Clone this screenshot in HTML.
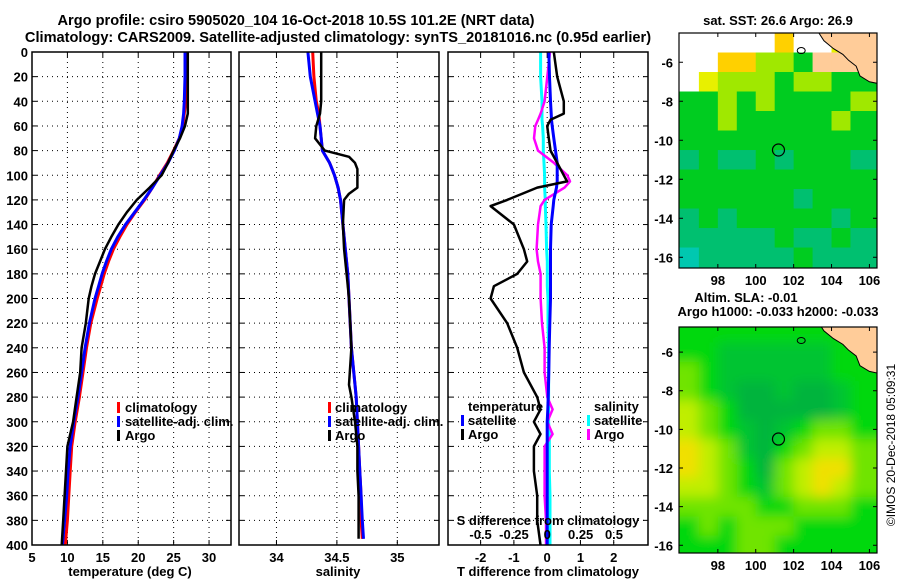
<!DOCTYPE html>
<html><head><meta charset="utf-8"><style>
html,body{margin:0;padding:0;background:#fff;}
svg{display:block;font-family:"Liberation Sans",sans-serif;font-weight:bold;}
</style></head><body>
<svg id="c" width="900" height="580" viewBox="0 0 900 580" xmlns="http://www.w3.org/2000/svg">
<defs><filter id="blur" x="-0.1" y="-0.1" width="1.2" height="1.2"><feGaussianBlur stdDeviation="6"/></filter>
<clipPath id="clipTop"><rect x="679" y="33" width="198" height="235"/></clipPath>
<clipPath id="clipBot"><rect x="679" y="327" width="198" height="226"/></clipPath></defs>
<text x="296" y="25" text-anchor="middle" font-size="14.6">Argo profile: csiro 5905020_104 16-Oct-2018 10.5S 101.2E (NRT data)</text>
<text x="338" y="42" text-anchor="middle" font-size="14.6">Climatology: CARS2009. Satellite-adjusted climatology: synTS_20181016.nc (0.95d earlier)</text>
</svg>
<script>
// ---- profile data ----
const depthTicks=[0,20,40,60,80,100,120,140,160,180,200,220,240,260,280,300,320,340,360,380,400];
const tDepth=[0,20,40,50,60,70,80,90,100,110,120,130,140,150,160,170,180,190,200,220,240,260,280,300,320,340,360,380,400];
const tClim=[26.8,26.8,26.7,26.5,26.3,25.8,25.0,24.1,23.0,22.0,20.9,19.6,18.4,17.4,16.5,15.8,15.2,14.7,14.2,13.3,12.7,12.2,11.7,11.1,10.6,10.4,10.2,10.0,9.7];
const tSat=[26.6,26.6,26.5,26.4,26.2,25.8,25.1,24.2,23.1,22.0,20.8,19.5,18.2,17.1,16.2,15.5,14.9,14.4,13.9,13.1,12.5,12.0,11.5,10.9,10.4,10.1,9.9,9.6,9.3];
const tArgo=[27.0,27.0,27.0,27.0,26.6,25.9,25.0,24.2,23.3,21.6,19.8,18.4,17.2,16.2,15.3,14.6,13.9,13.4,13.0,12.6,12.0,11.8,11.3,10.8,10.0,9.8,9.6,9.4,9.2];
const sDepth=[0,20,40,50,60,70,80,85,90,95,100,110,115,120,140,160,180,200,240,270,280,300,320,340,360,380,395];
const sClim=[34.30,34.31,34.33,34.35,34.36,34.37,34.38,34.41,34.44,34.46,34.48,34.51,34.52,34.53,34.55,34.57,34.59,34.60,34.62,34.65,34.66,34.67,34.68,34.69,34.70,34.70,34.71];
const sSat=[34.26,34.28,34.32,34.34,34.36,34.37,34.38,34.41,34.44,34.46,34.48,34.51,34.52,34.53,34.55,34.57,34.59,34.60,34.62,34.65,34.66,34.67,34.68,34.69,34.70,34.71,34.72];
const sArgo=[34.37,34.37,34.37,34.36,34.33,34.32,34.40,34.60,34.65,34.67,34.67,34.67,34.60,34.56,34.55,34.56,34.58,34.60,34.62,34.60,34.62,34.65,34.67,34.67,34.68,34.68,34.68];
const dDepth=[0,20,40,50,55,60,70,80,90,100,105,110,120,125,140,160,170,180,190,200,220,240,260,280,290,300,310,320,340,360,380,400];
const dTArgo=[0.2,0.3,0.5,0.5,0.1,0.0,0.05,0.1,0.3,0.5,0.6,-0.3,-1.2,-1.7,-1.0,-0.7,-0.6,-0.9,-1.6,-1.7,-1.2,-0.9,-0.7,-0.3,-0.2,-0.4,-0.2,-0.4,-0.4,-0.3,-0.3,-0.2];
const dTSat=[0.05,0.07,0.1,0.12,0.13,0.15,0.2,0.25,0.3,0.3,0.3,0.28,0.2,0.18,0.12,0.1,0.1,0.1,0.1,0.1,0.08,0.06,0.05,0.03,0.02,0.0,0.0,0.0,0.0,0.0,0.0,0.0];
const dSArgo=[0.02,0.0,-0.02,-0.05,-0.07,-0.09,-0.1,-0.07,0.05,0.15,0.17,0.13,-0.02,-0.05,-0.07,-0.08,-0.07,-0.05,-0.05,-0.05,-0.04,-0.02,-0.02,0.0,0.04,0.0,0.04,-0.02,-0.02,-0.02,-0.01,-0.01];
const dSSat=[-0.05,-0.05,-0.04,-0.04,-0.04,-0.035,-0.03,-0.03,-0.025,-0.02,-0.02,-0.02,-0.015,-0.015,-0.01,-0.005,0.0,0.0,0.0,0.005,0.005,0.01,0.01,0.01,0.01,0.01,0.015,0.015,0.015,0.02,0.02,0.02];
const tTicks=[5,10,15,20,25,30];
const sTicks=[34,34.5,35];
const dTTicks=[-2,-1,0,1,2];
const dSTicks=[-0.5,-0.25,0,0.25,0.5];
// ---- map data (1-degree cells, lon 96..106, lat -4.5 southward) ----
const sstGrid=[
"000006005L",
"0066443LLL",
"0544434433",
"3343433334",
"3343333343",
"3333333333",
"2322323332",
"3333333333",
"3333332333",
"2323333323",
"2222232232",
"1222223222"];
const slaGrid=[
"333333333L",
"3322222233",
"4322222233",
"4321121123",
"5431111123",
"5432123443",
"6542134554",
"6543145664",
"5543245654",
"4444334443",
"3434443333",
"3334433333"];
const sstColors={"0":"#ffffff","1":"#00c8b0","2":"#00c070","3":"#00cc20","4":"#a0e800","5":"#e8f000","6":"#ffd000","L":"#ffcc99"};
const slaColors={"1":"#00b43c","2":"#00c432","3":"#00d810","4":"#70e400","5":"#c0ee00","6":"#f0e000","L":"#00d810"};
const latTicks=[-6,-8,-10,-12,-14,-16];
const lonTicks=[98,100,102,104,106];
const argoLon=101.2, argoLat=-10.5;

const svg=document.getElementById('c');
const NS="http://www.w3.org/2000/svg";
function mk(tag,attrs,parent){const e=document.createElementNS(NS,tag);for(const k in attrs)e.setAttribute(k,attrs[k]);(parent||svg).appendChild(e);return e;}
const Y0=52,Y1=545;
const yD=d=>Y0+(d/400)*(Y1-Y0);

function panel(name,x0,x1,vmin,vmax){
  const g=mk('g',{});
  
  
  const sx=v=>x0+(v-vmin)/(vmax-vmin)*(x1-x0);
  depthTicks.forEach(d=>{if(d>0&&d<400){const l=mk('line',{x1:x0,x2:x1,y1:yD(d),y2:yD(d),stroke:'#000','stroke-dasharray':'1,4'},g);}
    mk('line',{x1:x0,x2:x0+5,y1:yD(d),y2:yD(d),stroke:'#000'},g);mk('line',{x1:x1-5,x2:x1,y1:yD(d),y2:yD(d),stroke:'#000'},g);});
  return {g,sx};
}
function vgrid(p,vals,x0,x1){vals.forEach(v=>{const x=p.sx(v);if(x>x0+1&&x<x1-1){const l=mk('line',{x1:x,x2:x,y1:Y0,y2:Y1,stroke:'#000','stroke-dasharray':'1,4'},p.g);}
  mk('line',{x1:x,x2:x,y1:Y1,y2:Y1-5,stroke:'#000'},p.g);mk('line',{x1:x,x2:x,y1:Y0,y2:Y0+5,stroke:'#000'},p.g);});}
function frame(p,x0,x1){const r=mk('rect',{x:x0,y:Y0,width:x1-x0,height:Y1-Y0,fill:'none',stroke:'#000','stroke-width':1.5},p.g);}
function series(p,depths,vals,color,w,name,scale){
  const pts=depths.map((d,i)=>(scale?scale(vals[i]):p.sx(vals[i])).toFixed(1)+','+yD(d).toFixed(1)).join(' ');
  const l=mk('polyline',{points:pts,fill:'none',stroke:color,'stroke-width':w,'stroke-linejoin':'round'},p.g);
  
  
}
function txt(s,x,y,attrs,parent,name){const t=mk('text',Object.assign({x:x,y:y,'font-size':13},attrs||{}),parent);t.textContent=s;return t;}
function legTick(x,y,color,parent){mk('rect',{x:x,y:y-10,width:3,height:11,fill:color},parent);}

// Panel 1 temperature
const p1=panel('temperature-panel',32,231,5,33.1);
vgrid(p1,tTicks,32,231);
series(p1,tDepth,tClim,'#ff0000',3,'climatology-temperature-line');
series(p1,tDepth,tSat,'#0000ff',3,'satellite-temperature-line');
series(p1,tDepth,tArgo,'#000000',2.5,'argo-temperature-line');
frame(p1,32,231);
depthTicks.forEach(d=>txt(String(d),28,yD(d)+5,{'text-anchor':'end'},p1.g,'y-tick-label'));
tTicks.forEach(v=>txt(String(v),p1.sx(v),562,{'text-anchor':'middle'},p1.g,'x-tick-label'));
txt('temperature (deg C)',130,576,{'text-anchor':'middle'},p1.g,'x-axis-title');
legTick(117,412,'#ff0000',p1.g);txt('climatology',125,412,{},p1.g,'legend-entry');
legTick(117,426,'#0000ff',p1.g);txt('satellite-adj. clim.',125,426,{},p1.g,'legend-entry');
legTick(117,440,'#000',p1.g);txt('Argo',125,440,{},p1.g,'legend-entry');

// Panel 2 salinity
const p2=panel('salinity-panel',239,439,33.69,35.345);
vgrid(p2,sTicks,239,439);
series(p2,sDepth,sClim,'#ff0000',3,'climatology-salinity-line');
series(p2,sDepth,sSat,'#0000ff',3,'satellite-salinity-line');
series(p2,sDepth,sArgo,'#000000',2.5,'argo-salinity-line');
frame(p2,239,439);
sTicks.forEach(v=>txt(String(v),p2.sx(v),562,{'text-anchor':'middle'},p2.g,'x-tick-label'));
txt('salinity',338,576,{'text-anchor':'middle'},p2.g,'x-axis-title');
legTick(328,412,'#ff0000',p2.g);txt('climatology',335,412,{},p2.g,'legend-entry');
legTick(328,426,'#0000ff',p2.g);txt('satellite-adj. clim.',335,426,{},p2.g,'legend-entry');
legTick(328,440,'#000',p2.g);txt('Argo',335,440,{},p2.g,'legend-entry');

// Panel 3 differences
const p3=panel('difference-panel',448,648,-2.98,3.03);
vgrid(p3,dTTicks,448,648);
const sxS=v=>547.3+v*133.4;
series(p3,dDepth,dSSat,'#00ffff',3,'satellite-salinity-diff-line',sxS);
series(p3,dDepth,dSArgo,'#ff00ff',2.5,'argo-salinity-diff-line',sxS);
series(p3,dDepth,dTSat,'#0000ff',3,'satellite-temperature-diff-line');
series(p3,dDepth,dTArgo,'#000000',2.5,'argo-temperature-diff-line');
frame(p3,448,648);
dTTicks.forEach(v=>txt(String(v),p3.sx(v),562,{'text-anchor':'middle'},p3.g,'x-tick-label'));
txt('T difference from climatology',548,576,{'text-anchor':'middle'},p3.g,'x-axis-title');
txt('S difference from climatology',548,525,{'text-anchor':'middle'},p3.g,'secondary-x-axis-title');
dSTicks.forEach(v=>txt(String(v),sxS(v),539,{'text-anchor':'middle'},p3.g,'secondary-x-tick-label'));
txt('temperature',468,411,{},p3.g,'legend-header');
legTick(461,425,'#0000ff',p3.g);txt('satellite',468,425,{},p3.g,'legend-entry');
legTick(461,439,'#000',p3.g);txt('Argo',468,439,{},p3.g,'legend-entry');
txt('salinity',594,411,{},p3.g,'legend-header');
legTick(587,425,'#00ffff',p3.g);txt('satellite',594,425,{},p3.g,'legend-entry');
legTick(587,439,'#ff00ff',p3.g);txt('Argo',594,439,{},p3.g,'legend-entry');

// Maps
function map(name,grid,colors,top,bottom,latTop,latBot,blur,clip){
  const g=mk('g',{});
  
  
  const X0=679,X1=877,lonL=95.95,lonR=106.4;
  const sx=lo=>X0+(lo-lonL)/(lonR-lonL)*(X1-X0);
  const sy=la=>top+(latTop-la)/(latTop-latBot)*(bottom-top);
  const cg=mk('g',{'clip-path':'url(#'+clip+')'},g);
  const cells=mk('g',blur?{filter:'url(#blur)'}:{},cg);
  const ext=blur?1.5:0.5;
  grid.forEach((row,r)=>{for(let c=0;c<row.length;c++){
    const x=sx(96+c-(c===0?ext:0)), x2=sx(97+c+(c===9?ext:0));
    const y=sy(-4.5-r+(r===0?ext:0)), y2=sy(-5.5-r-(r===11?ext:0));
    const cell=mk('rect',{x:x,y:y,width:x2-x+0.5,height:y2-y+0.5,fill:colors[row[c]]},cells);
    
    
  }});
  const coast=[[103.2,-4.3],[103.6,-4.9],[104.1,-5.3],[104.6,-5.6],[104.9,-5.9],[105.3,-6.2],[105.5,-6.7],[106.0,-7.0],[106.5,-7.1],[106.5,-4.3]];
  const land=mk('polygon',{points:coast.map(p=>sx(p[0])+','+sy(p[1])).join(' '),fill:'#ffcc99',stroke:'#000','stroke-width':1},cg);
  
  
  const isl=mk('ellipse',{cx:sx(102.4),cy:sy(-5.4),rx:4,ry:3,fill:'none',stroke:'#000'},cg);
  
  const ring=mk('circle',{cx:sx(argoLon),cy:sy(argoLat),r:6,fill:'none',stroke:'#000','stroke-width':1.2},g);
  
  
  mk('rect',{x:X0,y:top,width:X1-X0,height:bottom-top,fill:'none',stroke:'#000','stroke-width':1.2},g);
  latTicks.forEach(la=>{const y=sy(la);mk('line',{x1:X0,x2:X0+4,y1:y,y2:y,stroke:'#000'},g);mk('line',{x1:X1-4,x2:X1,y1:y,y2:y,stroke:'#000'},g);txt(String(la),673,y+5,{'text-anchor':'end'},g,'lat-tick-label');});
  lonTicks.forEach(lo=>{const x=sx(lo);mk('line',{x1:x,x2:x,y1:bottom,y2:bottom-4,stroke:'#000'},g);mk('line',{x1:x,x2:x,y1:top,y2:top+4,stroke:'#000'},g);txt(String(lo),x,bottom+17,{'text-anchor':'middle'},g,'lon-tick-label');});
}
map('sst-map',sstGrid,sstColors,33,268,-4.5,-16.55,false,'clipTop');
map('sla-map',slaGrid,slaColors,327,553,-4.7,-16.4,true,'clipBot');
txt('sat. SST: 26.6 Argo: 26.9',778,25,{'text-anchor':'middle'},svg,'sst-map-title');
txt('Altim. SLA: -0.01',746,302,{'text-anchor':'middle'},svg,'sla-map-title');
txt('Argo h1000: -0.033 h2000: -0.033',778,316,{'text-anchor':'middle'},svg,'sla-map-subtitle');
const cr=txt('©IMOS 20-Dec-2018 05:09:31',0,0,{'text-anchor':'middle','font-weight':'normal','font-size':12,transform:'translate(895,445) rotate(-90)'},svg,'copyright-timestamp');
</script>
</body></html>
